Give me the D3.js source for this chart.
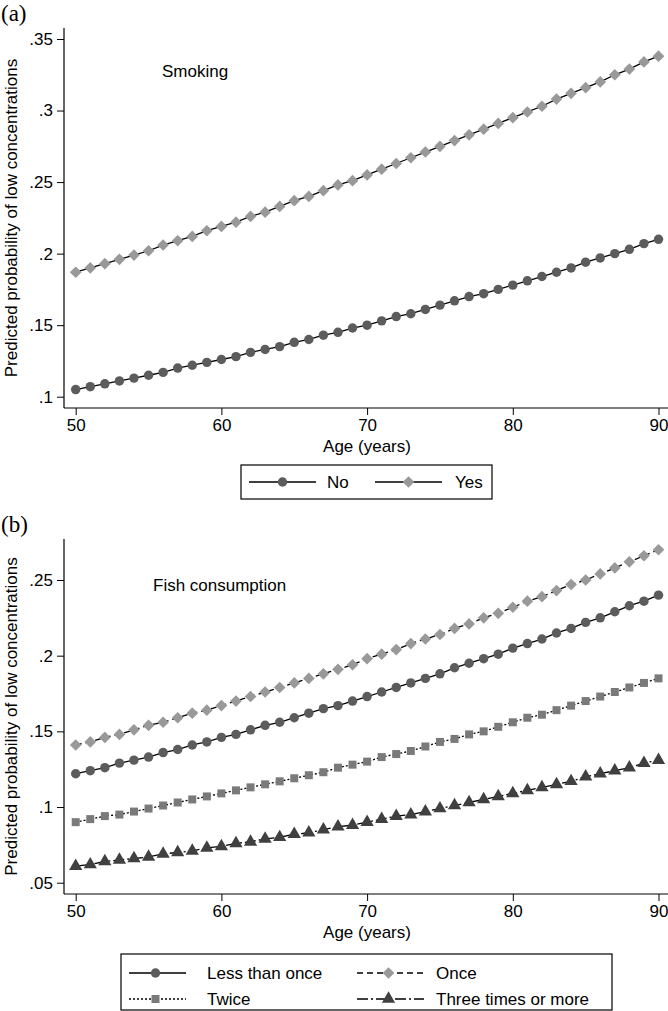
<!DOCTYPE html>
<html><head><meta charset="utf-8">
<script src="https://cdn.jsdelivr.net/npm/d3@7"></script>
<style>body{margin:0;background:#fff}text{font-family:"Liberation Sans",Arial,sans-serif;fill:#000}</style>
</head><body><svg id="c" width="668" height="1011"></svg>
<script>
const ages = d3.range(50, 91);
// Panel (a): Smoking
const smokeNo = [.105,.107,.109,.111,.113,.115,.117,.120,.122,.124,.126,.128,.131,.133,.135,.138,.140,.143,.145,.148,.150,.153,.156,.158,.161,.164,.167,.170,.172,.175,.178,.181,.184,.187,.190,.194,.197,.200,.203,.207,.210];
const smokeYes = [.187,.190,.193,.196,.199,.202,.206,.209,.212,.216,.219,.222,.226,.229,.233,.237,.240,.244,.248,.251,.255,.259,.263,.267,.271,.275,.279,.283,.287,.291,.295,.299,.303,.308,.312,.316,.320,.325,.329,.334,.338];
// Panel (b): Fish consumption
const fishLess = [.122,.124,.126,.129,.131,.133,.136,.138,.141,.143,.146,.148,.151,.154,.156,.159,.162,.165,.167,.170,.173,.176,.179,.182,.185,.188,.192,.195,.198,.201,.205,.208,.211,.215,.218,.222,.225,.229,.233,.236,.240];
const fishOnce = [.141,.143,.146,.148,.151,.154,.156,.159,.162,.164,.167,.170,.173,.176,.179,.182,.185,.188,.191,.194,.198,.201,.204,.208,.211,.214,.218,.221,.225,.228,.232,.236,.239,.243,.247,.250,.254,.258,.262,.266,.270];
const fishTwice = [.090,.092,.094,.095,.097,.099,.101,.103,.105,.107,.109,.111,.113,.115,.117,.119,.121,.123,.126,.128,.130,.133,.135,.137,.140,.143,.145,.148,.150,.153,.156,.159,.161,.164,.167,.170,.173,.176,.179,.182,.185];
const fishThree = [.061,.062,.064,.065,.066,.067,.069,.070,.071,.073,.074,.076,.077,.079,.080,.082,.083,.085,.087,.088,.090,.092,.094,.095,.097,.099,.101,.103,.105,.107,.109,.111,.113,.115,.117,.120,.122,.124,.126,.129,.131];

const xTicks = [50, 60, 70, 80, 90];
const yTicksA = [.1, .15, .2, .25, .3, .35];
const yTickLabelsA = [".1", ".15", ".2", ".25", ".3", ".35"];
const yTicksB = [.05, .1, .15, .2, .25];
const yTickLabelsB = [".05", ".1", ".15", ".2", ".25"];

const seriesA = [
  {name: "No", values: smokeNo, shape: "circle", color: "#5c5c5c", dash: null},
  {name: "Yes", values: smokeYes, shape: "diamond", color: "#999999", dash: null}
];
const seriesB = [
  {name: "Less than once", values: fishLess, shape: "circle", color: "#5c5c5c", dash: null},
  {name: "Once", values: fishOnce, shape: "diamond", color: "#999999", dash: "6,4"},
  {name: "Twice", values: fishTwice, shape: "square", color: "#7a7a7a", dash: "2,2"},
  {name: "Three times or more", values: fishThree, shape: "triangle", color: "#404040", dash: "11,3,2,3"}
];

const svg = d3.select("#c");
const symType = {circle: d3.symbolCircle, diamond: d3.symbolSquare, square: d3.symbolSquare, triangle: d3.symbolTriangle};
const symSize = {circle: 70, diamond: 68, square: 64, triangle: 76};
function marker(g, shape, color, x, y) {
  const p = g.append("path").attr("d", d3.symbol(symType[shape], symSize[shape])())
    .attr("fill", color)
    .attr("transform", `translate(${x},${y})` + (shape === "diamond" ? " rotate(45)" : ""));
  return p;
}

function panel(cfg) {
  const g = svg.append("g");
  const x = d3.scaleLinear().domain([50, 90]).range([75.7, 658.5]);
  const y = d3.scaleLinear().domain(cfg.yDomain).range(cfg.yRange);
  g.append("line").attr("x1", cfg.left).attr("x2", cfg.left).attr("y1", cfg.top).attr("y2", cfg.bottom).attr("stroke", "#000").attr("stroke-width", 1.2);
  g.append("line").attr("x1", cfg.left).attr("x2", 668).attr("y1", cfg.bottom).attr("y2", cfg.bottom).attr("stroke", "#000").attr("stroke-width", 1.2);
  const ya = d3.axisLeft(y).tickValues(cfg.yTicks).tickFormat((d, i) => cfg.yLabels[i]).tickSize(7).tickPadding(4);
  const yg = g.append("g").attr("transform", `translate(${cfg.left},0)`).call(ya);
  yg.select(".domain").remove();
  yg.selectAll("text").attr("font-size", 17).attr("font-family", "Liberation Sans, Arial, sans-serif").attr("fill", "#000");
  yg.selectAll("line").attr("stroke", "#000");
  const xa = d3.axisBottom(x).tickValues(xTicks).tickFormat(d3.format("d")).tickSize(7).tickPadding(4);
  const xg = g.append("g").attr("transform", `translate(0,${cfg.bottom})`).call(xa);
  xg.select(".domain").remove();
  xg.selectAll("text").attr("font-size", 17).attr("font-family", "Liberation Sans, Arial, sans-serif").attr("fill", "#000");
  xg.selectAll("line").attr("stroke", "#000");
  g.append("text").attr("x", 367).attr("y", cfg.bottom + 44).attr("text-anchor", "middle").attr("font-size", 17).text("Age (years)");
  g.append("text").attr("transform", `translate(17,${(cfg.top + cfg.bottom) / 2}) rotate(-90)`).attr("text-anchor", "middle").attr("font-size", 17).text("Predicted probability of low concentrations");
  g.append("text").attr("x", 1).attr("y", cfg.top - 7).attr("font-size", 23).style("font-family", "Liberation Serif, Times New Roman, serif").text(cfg.tag);
  g.append("text").attr("x", cfg.noteX).attr("y", cfg.noteY).attr("font-size", 17).text(cfg.note);
  const line = d3.line().x((d, i) => x(ages[i])).y(d => y(d));
  cfg.series.forEach(s => {
    g.append("path").datum(s.values).attr("d", line).attr("fill", "none").attr("stroke", "#000").attr("stroke-width", 1.3)
      .attr("stroke-dasharray", s.dash);
    const mg = g.append("g");
    s.values.forEach((v, i) => marker(mg, s.shape, s.color, x(ages[i]), y(v)));
  });
  return g;
}

panel({yDomain: [.1, .35], yRange: [396.7, 39], top: 28, bottom: 408, left: 64, yTicks: yTicksA, yLabels: yTickLabelsA,
  series: seriesA, tag: "(a)", note: "Smoking", noteX: 162, noteY: 77});
panel({yDomain: [.05, .25], yRange: [882.7, 580], top: 539, bottom: 894, left: 64, yTicks: yTicksB, yLabels: yTickLabelsB,
  series: seriesB, tag: "(b)", note: "Fish consumption", noteX: 153, noteY: 591});

// Legend (a)
const la = svg.append("g");
la.append("rect").attr("x", 241).attr("y", 465).attr("width", 251).attr("height", 34).attr("fill", "#fff").attr("stroke", "#000").attr("stroke-width", 1.2);
const legA = [{x0: 249, x1: 316, tx: 327}, {x0: 375, x1: 442, tx: 455}];
seriesA.forEach((s, i) => {
  const p = legA[i];
  la.append("line").attr("x1", p.x0).attr("x2", p.x1).attr("y1", 482).attr("y2", 482).attr("stroke", "#000").attr("stroke-width", 1.3);
  marker(la, s.shape, s.color, (p.x0 + p.x1) / 2, 482);
  la.append("text").attr("x", p.tx).attr("y", 488).attr("font-size", 17).text(s.name);
});

// Legend (b)
const lb = svg.append("g");
lb.append("rect").attr("x", 121).attr("y", 954).attr("width", 491).attr("height", 56).attr("fill", "#fff").attr("stroke", "#000").attr("stroke-width", 1.2);
const legB = [{x0: 129, x1: 186, tx: 207, y: 973}, {x0: 357, x1: 424, tx: 436, y: 973},
              {x0: 129, x1: 186, tx: 207, y: 999}, {x0: 357, x1: 424, tx: 436, y: 999}];
seriesB.forEach((s, i) => {
  const p = legB[i];
  lb.append("line").attr("x1", p.x0).attr("x2", p.x1).attr("y1", p.y).attr("y2", p.y).attr("stroke", "#000").attr("stroke-width", 1.3).attr("stroke-dasharray", s.dash);
  marker(lb, s.shape, s.color, (p.x0 + p.x1) / 2 - 2, p.y);
  lb.append("text").attr("x", p.tx).attr("y", p.y + 6).attr("font-size", 17).text(s.name);
});
</script></body></html>
